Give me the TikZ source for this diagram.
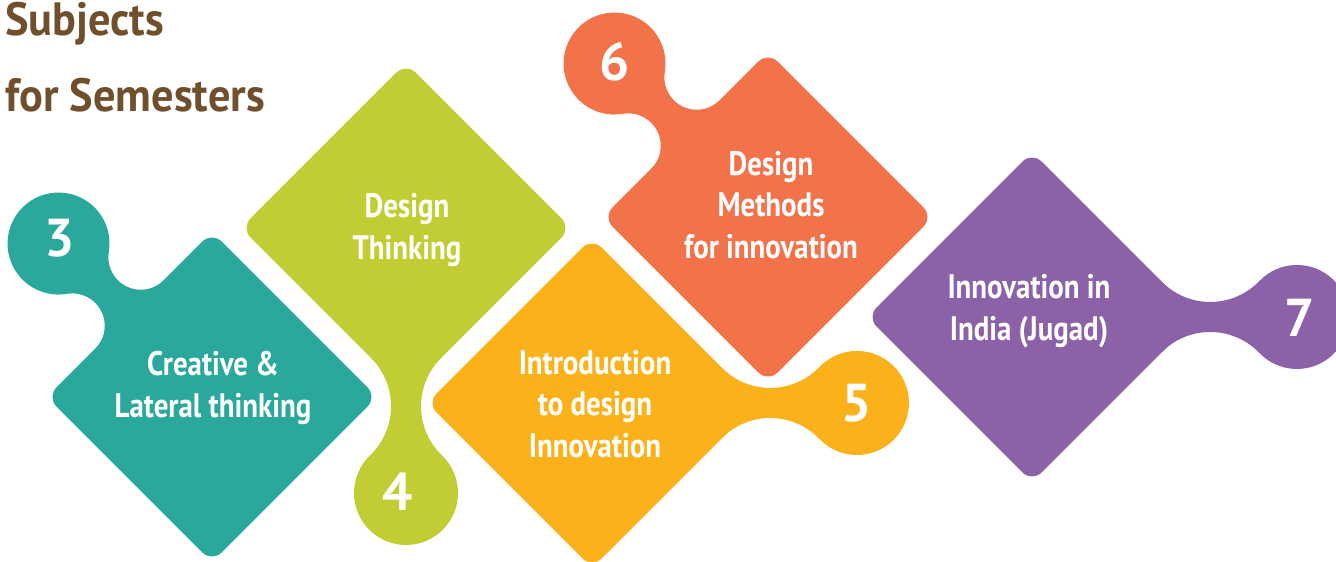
\documentclass[tikz,border=0pt]{standalone}
\usepackage{fontspec}
\newfontfamily\condfont[FakeStretch=0.85]{PT Sans}
\newfontfamily\ttlfont[FakeStretch=0.95]{PT Sans}
\newfontfamily\numfont{PT Sans}
\definecolor{cteal}{HTML}{2AA89B}
\definecolor{cgreen}{HTML}{C1CD33}
\definecolor{cyellow}{HTML}{FBB21A}
\definecolor{corange}{HTML}{F2724A}
\definecolor{cpurple}{HTML}{8B61A8}
\definecolor{cbrown}{HTML}{6F4F2C}
% vertex-type piece: lobe beyond a diamond vertex
\newcommand\vpiece[4]{%
\begin{scope}[shift={(#1,#2)}, rotate=#3]
\fill[#4, rounded corners=10pt] (165,0) -- (0,165) -- (-165,0) -- (0,-165) -- cycle;
\fill[#4] (130.0,35.0) arc[start angle=225, end angle=316.2, radius=68.2]
  arc[start angle=136.2, end angle=-136.2, radius=52]
  arc[start angle=43.8, end angle=135, radius=68.2] -- (60,0) -- cycle;
\end{scope}}
% edge-type piece: lobe beyond the middle of a diamond edge
\newcommand\epiece[4]{%
\begin{scope}[shift={(#1,#2)}, rotate=#3]
\fill[#4, rounded corners=10pt] (116.7,116.7) -- (-116.7,116.7) -- (-116.7,-116.7) -- (116.7,-116.7) -- cycle;
\fill[#4] (116.7,48.39) arc[start angle=180, end angle=324.53, radius=32.39]
  arc[start angle=144.53, end angle=-144.53, radius=51]
  arc[start angle=35.47, end angle=180, radius=32.39] -- (80,0) -- cycle;
\end{scope}}
\tikzset{
  lbl/.style={text=white, align=center, inner sep=0pt,
    font=\condfont\bfseries\fontsize{25.5pt}{31pt}\selectfont},
  num/.style={text=white, inner sep=0pt, font=\numfont\bfseries\fontsize{40pt}{40pt}\selectfont},
  ttl/.style={text=cbrown, anchor=base west, inner sep=0pt,
    font=\ttlfont\bfseries\fontsize{35pt}{40pt}\selectfont}
}
\begin{document}
\begin{tikzpicture}[x=0.75pt,y=0.75pt]
\useasboundingbox (0,0) rectangle (1336,561);
\clip (0,0) rectangle (1336,561);
\fill[white] (0,0) rectangle (1336,561);
% pieces
\epiece{212}{164}{135}{cteal}
\vpiece{406}{333}{270}{cgreen}
\vpiece{592}{158}{0}{cyellow}
\epiece{768}{344}{135}{corange}
\vpiece{1032}{244}{0}{cpurple}
% labels
\node[lbl] (t3) at (213,173) {Creative \&\\Lateral thinking};
\node[lbl] (t4) at (407,331) {Design\\Thinking};
\node[lbl] (t5) at (595,157) {Introduction\\to design\\Innovation};
\node[lbl] (t6) at (771,356) {Design\\Methods\\for innovation};
\node[lbl] (t7) at (1029,250) {Innovation in\\India (Jugad)};
% numbers
\node[num] (n3) at (60,323) {3};
\node[num] (n4) at (398,69) {4};
\node[num] (n5) at (857,158) {5};
\node[num] (n6) at (615,499) {6};
\node[num] (n7) at (1300,243) {7};
% title
\node[ttl] (title1) at (5,525) {Subjects};
\node[ttl] (title2) at (5,449) {for Semesters};
\end{tikzpicture}
\end{document}
